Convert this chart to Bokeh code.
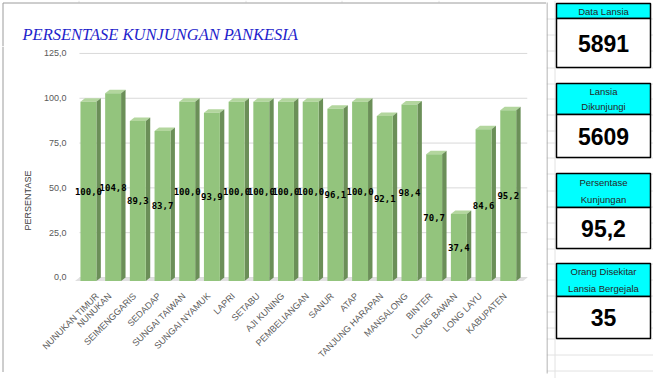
import math
from bokeh.plotting import figure
from bokeh.layouts import row, column
from bokeh.models import Range1d, FixedTicker
from bokeh.core.properties import value
from bokeh.embed import file_html
from bokeh.resources import INLINE

# ---------------- data ----------------
categories = ["NUNUKAN TIMUR", "NUNUKAN", "SEIMENGGARIS", "SEDADAP", "SUNGAI TAIWAN",
              "SUNGAI NYAMUK", "LAPRI", "SETABU", "AJI KUNING", "PEMBELIANGAN", "SANUR",
              "ATAP", "TANJUNG HARAPAN", "MANSALONG", "BINTER", "LONG BAWAN", "LONG LAYU",
              "KABUPATEN"]
persentase = [100.0, 104.8, 89.3, 83.7, 100.0, 93.9, 100.0, 100.0, 100.0, 100.0, 96.1,
              100.0, 92.1, 98.4, 70.7, 37.4, 84.6, 95.2]
y_ticks = [0, 25, 50, 75, 100, 125]
y_tick_labels = ["0,0", "25,0", "50,0", "75,0", "100,0", "125,0"]
title_text = "PERSENTASE KUNJUNGAN PANKESIA"
y_label_text = "PERSENTASE"
card_titles = [["Data Lansia"], ["Lansia", "Dikunjungi"], ["Persentase", "Kunjungan"],
               ["Orang Disekitar", "Lansia Bergejala"]]
card_values = ["5891", "5609", "95,2", "35"]

BORDER = "#9c9c9c"
SHEET = "#e2e2e2"


def no_align(f):
    if "frame_align" in f.properties():
        f.frame_align = False


def strip(w, h):
    f = figure(frame_width=w, frame_height=h, output_backend="svg", toolbar_location=None,
               tools="", x_range=Range1d(0, w), y_range=Range1d(h, 0), min_border=0,
               x_axis_location=None, y_axis_location=None, title=None)
    f.outline_line_color = None
    f.grid.visible = False
    f.background_fill_color = "white"
    f.border_fill_color = "white"
    no_align(f)
    return f


H = 378
WLEFT = 546            # chart object width (page x 0..546)
WL = 40                # strip holding the vertical axis title
WC = WLEFT - WL        # plot figure width
WR = 653 - WLEFT       # cards
HT, HC = 46, 326       # title strip / plot heights
HB = H - HT - HC
sheet_cols = [78, 245, 341, 438]

# ---------------- title strip ----------------
TOP = strip(WLEFT, HT)
TOP.segment(x0=[c + 0.5 for c in sheet_cols], x1=[c + 0.5 for c in sheet_cols],
            y0=[0] * 4, y1=[2] * 4, line_color=SHEET, line_width=1)
TOP.segment(x0=[2.5, 2.5], x1=[WLEFT, 2.5], y0=[2.5, 2.5], y1=[2.5, HT],
            line_color=BORDER, line_width=1)
TOP.text(x=[22], y=[33.5], text=[title_text], text_font=value("Liberation Serif"),
         text_font_style="italic", text_font_size="16.5px", text_color="#1f1fcc",
         text_align="left", text_baseline="alphabetic")

# ---------------- left strip (axis title) ----------------
L = strip(WL, HC)
L.segment(x0=[2.5], x1=[2.5], y0=[0], y1=[HC], line_color=BORDER, line_width=1)
L.text(x=[27], y=[200 - HT], text=[y_label_text], angle=math.pi / 2,
       text_font=value("Liberation Sans"), text_font_size="9px", text_color="#404040",
       text_align="center", text_baseline="middle")

# ---------------- bottom strip ----------------
BOT = strip(WLEFT, HB)
BOT.segment(x0=[2.5], x1=[WLEFT], y0=[0.5], y1=[0.5], line_color=BORDER, line_width=1)
BOT.segment(x0=[c + 0.5 for c in sheet_cols], x1=[c + 0.5 for c in sheet_cols],
            y0=[1] * 4, y1=[HB] * 4, line_color=SHEET, line_width=1)

# ---------------- chart ----------------
n = len(categories)
xs = list(range(n))
x0, x1 = -0.726, 17.78      # frame range
xg = -0.363                 # back wall start
p = figure(width=WC, height=HC, output_backend="svg", toolbar_location=None, tools="",
           title=None, x_range=Range1d(x0, x1), y_range=Range1d(-3.35, 127.2),
           min_border_left=28, min_border_right=19, min_border_top=3, min_border_bottom=89)
no_align(p)
p.outline_line_color = None
p.background_fill_color = "white"
p.border_fill_color = "white"

hw, dx, dy = 0.3225, 0.18, 1.95
front_col, side_col, top_col = "#93c47d", "#6b8f58", "#b3d69e"

p.segment(x0=[xg] * len(y_ticks), x1=[x1] * len(y_ticks), y0=y_ticks, y1=y_ticks,
          line_color="#d9d9d9", line_width=1)
p.patch([xg - dx, xg, x1, x1 - dx], [-dy, 0, 0, -dy], fill_color="#e0e0e0", line_color=None)

tops_x, tops_y, sides_x, sides_y = [], [], [], []
for i, v in zip(xs, persentase):
    tops_x.append([i - hw, i - hw + dx, i + hw + dx, i + hw])
    tops_y.append([v - dy, v, v, v - dy])
    sides_x.append([i + hw, i + hw + dx, i + hw + dx, i + hw])
    sides_y.append([-dy, 0, v, v - dy])
p.patches(tops_x, tops_y, fill_color=top_col, line_color=None)
p.patches(sides_x, sides_y, fill_color=side_col, line_color=None)
p.quad(left=[i - hw for i in xs], right=[i + hw for i in xs], bottom=[-dy] * n,
       top=[v - dy for v in persentase], fill_color=front_col, line_color=None)

labels = [f"{v:.1f}".replace(".", ",") for v in persentase]
p.text(x=xs, y=[v / 2 - dy for v in persentase], text=labels,
       text_font=value("DejaVu Sans Mono"), text_font_style="bold", text_font_size="9px",
       text_align="center", text_baseline="middle", text_color="black")

# category labels: anchored slightly left of the bar centre (rotated text)
label_shift = 0.125
x_tick_pos = [i - label_shift for i in xs]
p.xaxis.ticker = FixedTicker(ticks=x_tick_pos)
p.xaxis.major_label_overrides = {t: c for t, c in zip(x_tick_pos, categories)}
p.xaxis.major_label_orientation = math.pi / 4
p.xaxis.axis_line_color = None
p.xaxis.major_tick_line_color = None
p.xaxis.minor_tick_line_color = None
p.xaxis.major_label_text_font = "Liberation Sans"
p.xaxis.major_label_text_font_size = "9px"
p.xaxis.major_label_text_color = "#595959"
p.xaxis.major_label_standoff = 5

yt = FixedTicker(ticks=y_ticks)
p.yaxis.ticker = yt
p.yaxis.major_label_overrides = {t: l for t, l in zip(y_ticks, y_tick_labels)}
p.yaxis.axis_line_color = None
p.yaxis.major_tick_line_color = None
p.yaxis.minor_tick_line_color = None
p.yaxis.major_label_text_font = "Liberation Sans"
p.yaxis.major_label_text_font_size = "9px"
p.yaxis.major_label_text_color = "#595959"
p.yaxis.major_label_standoff = -2

p.grid.visible = False

# ---------------- cards ----------------
q = strip(WR, H)
rows_y = [18, 34, 50, 67, 83, 98, 114, 130, 142, 157, 173, 190, 206, 222, 238, 248,
          263, 279, 295, 311, 327, 338, 354, 370]
q.segment(x0=[0] * len(rows_y), x1=[WR] * len(rows_y), y0=[r + 0.5 for r in rows_y],
          y1=[r + 0.5 for r in rows_y], line_color=SHEET, line_width=1)
q.segment(x0=[8.5], x1=[8.5], y0=[0], y1=[H], line_color=SHEET, line_width=1)
q.segment(x0=[0.5], x1=[0.5], y0=[2], y1=[373], line_color=BORDER, line_width=1)

card_geom = [(3, 18, 67), (83, 114, 157), (173, 207, 248), (263, 296, 338)]
bl, br = 10, 104
for (ht, hb, vb), titles, val in zip(card_geom, card_titles, card_values):
    q.quad(left=[bl], right=[br], top=[ht], bottom=[hb], fill_color="#00ffff",
           line_color="black", line_width=1.5)
    q.quad(left=[bl], right=[br], top=[hb], bottom=[vb], fill_color="white",
           line_color="black", line_width=1.5)
    k = len(titles)
    q.text(x=[(bl + br) / 2] * k, y=[ht + (j + 0.5) * (hb - ht) / k for j in range(k)],
           text=titles, text_font=value("Liberation Sans"), text_font_size="9.5px",
           text_color="#262626", text_align="center", text_baseline="middle")
    q.text(x=[(bl + br) / 2], y=[(hb + vb) / 2], text=[val],
           text_font=value("Liberation Sans"), text_font_style="bold",
           text_font_size="23px", text_color="black", text_align="center",
           text_baseline="middle")

layout = row(column(TOP, row(L, p, spacing=0), BOT, spacing=0), q, spacing=0)
open("out.html", "w").write(file_html(layout, INLINE))
